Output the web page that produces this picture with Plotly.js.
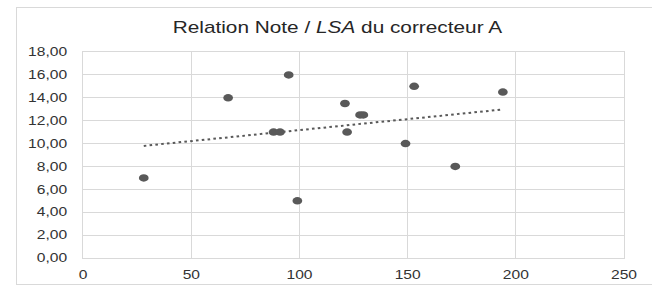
<!DOCTYPE html>
<html>
<head>
<meta charset="utf-8">
<script src="https://cdn.plot.ly/plotly-3.0.1.min.js"></script>
<style>
  html, body { margin: 0; padding: 0; background: #fff; overflow: hidden; }
  #wrap { position: absolute; left: 0; top: 0; width: 652px; height: 287px; overflow: hidden; }
  #frame { position: absolute; left: 16px; top: 7px; width: 700px; height: 278px; border: 1px solid #d9d9d9; box-sizing: border-box; }
  #chart { position: absolute; left: 0; top: 0; width: 502px; height: 287px; transform: scaleX(1.3); transform-origin: 0 0; }
</style>
</head>
<body>
<div id="wrap">
  <div id="frame"></div>
  <div id="chart"></div>
</div>
<script>
// LSA values (x) and grades (y) for corrector A
const lsa   = [28, 67, 95, 88, 91, 99, 121, 128, 129.5, 122, 153, 194, 149, 172];
const notes = [7, 14, 16, 11, 11, 5, 13.5, 12.5, 12.5, 11, 15, 14.5, 10, 8];
const xTicks = [0, 50, 100, 150, 200, 250];
const yTicks = [0, 2, 4, 6, 8, 10, 12, 14, 16, 18];

// Linear trendline (least squares) over the data range
const n = lsa.length;
const mx = lsa.reduce((a, b) => a + b, 0) / n;
const my = notes.reduce((a, b) => a + b, 0) / n;
let sxy = 0, sxx = 0;
for (let i = 0; i < n; i++) { sxy += (lsa[i] - mx) * (notes[i] - my); sxx += (lsa[i] - mx) ** 2; }
const slope = sxy / sxx, icpt = my - slope * mx;
const tx = [Math.min(...lsa), Math.max(...lsa)];
const ty = tx.map(v => icpt + slope * v);

const font = 'Liberation Sans, Arial, sans-serif';
const traces = [
  { x: tx, y: ty, mode: 'lines', type: 'scatter',
    line: { color: '#595959', width: 2, dash: '2px,2.5px' }, hoverinfo: 'skip' },
  { x: lsa, y: notes, mode: 'markers', type: 'scatter',
    marker: { color: '#595959', size: 7.5 } }
];
const layout = {
  width: 502, height: 287,
  margin: { l: 63.6, r: 22.1, t: 51.7, b: 29.3, pad: 0 },
  paper_bgcolor: 'rgba(0,0,0,0)', plot_bgcolor: '#fff',
  showlegend: false,
  separators: ',.',
  font: { family: font, size: 12, color: '#333' },
  title: { text: 'Relation Note / <i>LSA</i> du correcteur A', font: { family: font, size: 16, color: '#262626' },
           x: 0.517, xanchor: 'center', y: 0.905, yanchor: 'middle', xref: 'container', yref: 'container' },
  xaxis: { range: [0, 250], tickvals: xTicks, ticktext: xTicks.map(String), showgrid: true, gridcolor: '#d9d9d9', gridwidth: 1,
           zeroline: false, showline: true, linecolor: '#d9d9d9', linewidth: 1, mirror: true, ticks: '', ticklabelstandoff: 6,
           tickfont: { family: font, size: 12, color: '#333' } },
  yaxis: { range: [0, 18], tickvals: yTicks, ticktext: yTicks.map(v => v.toFixed(2).replace('.', ',')), showgrid: true, gridcolor: '#d9d9d9', gridwidth: 1,
           zeroline: false, showline: true, linecolor: '#d9d9d9', linewidth: 1, mirror: true, ticks: '', ticklabelstandoff: 9,
           tickfont: { family: font, size: 12, color: '#333' } }
};
Plotly.newPlot('chart', traces, layout, { displayModeBar: false, staticPlot: true });
</script>
</body>
</html>
